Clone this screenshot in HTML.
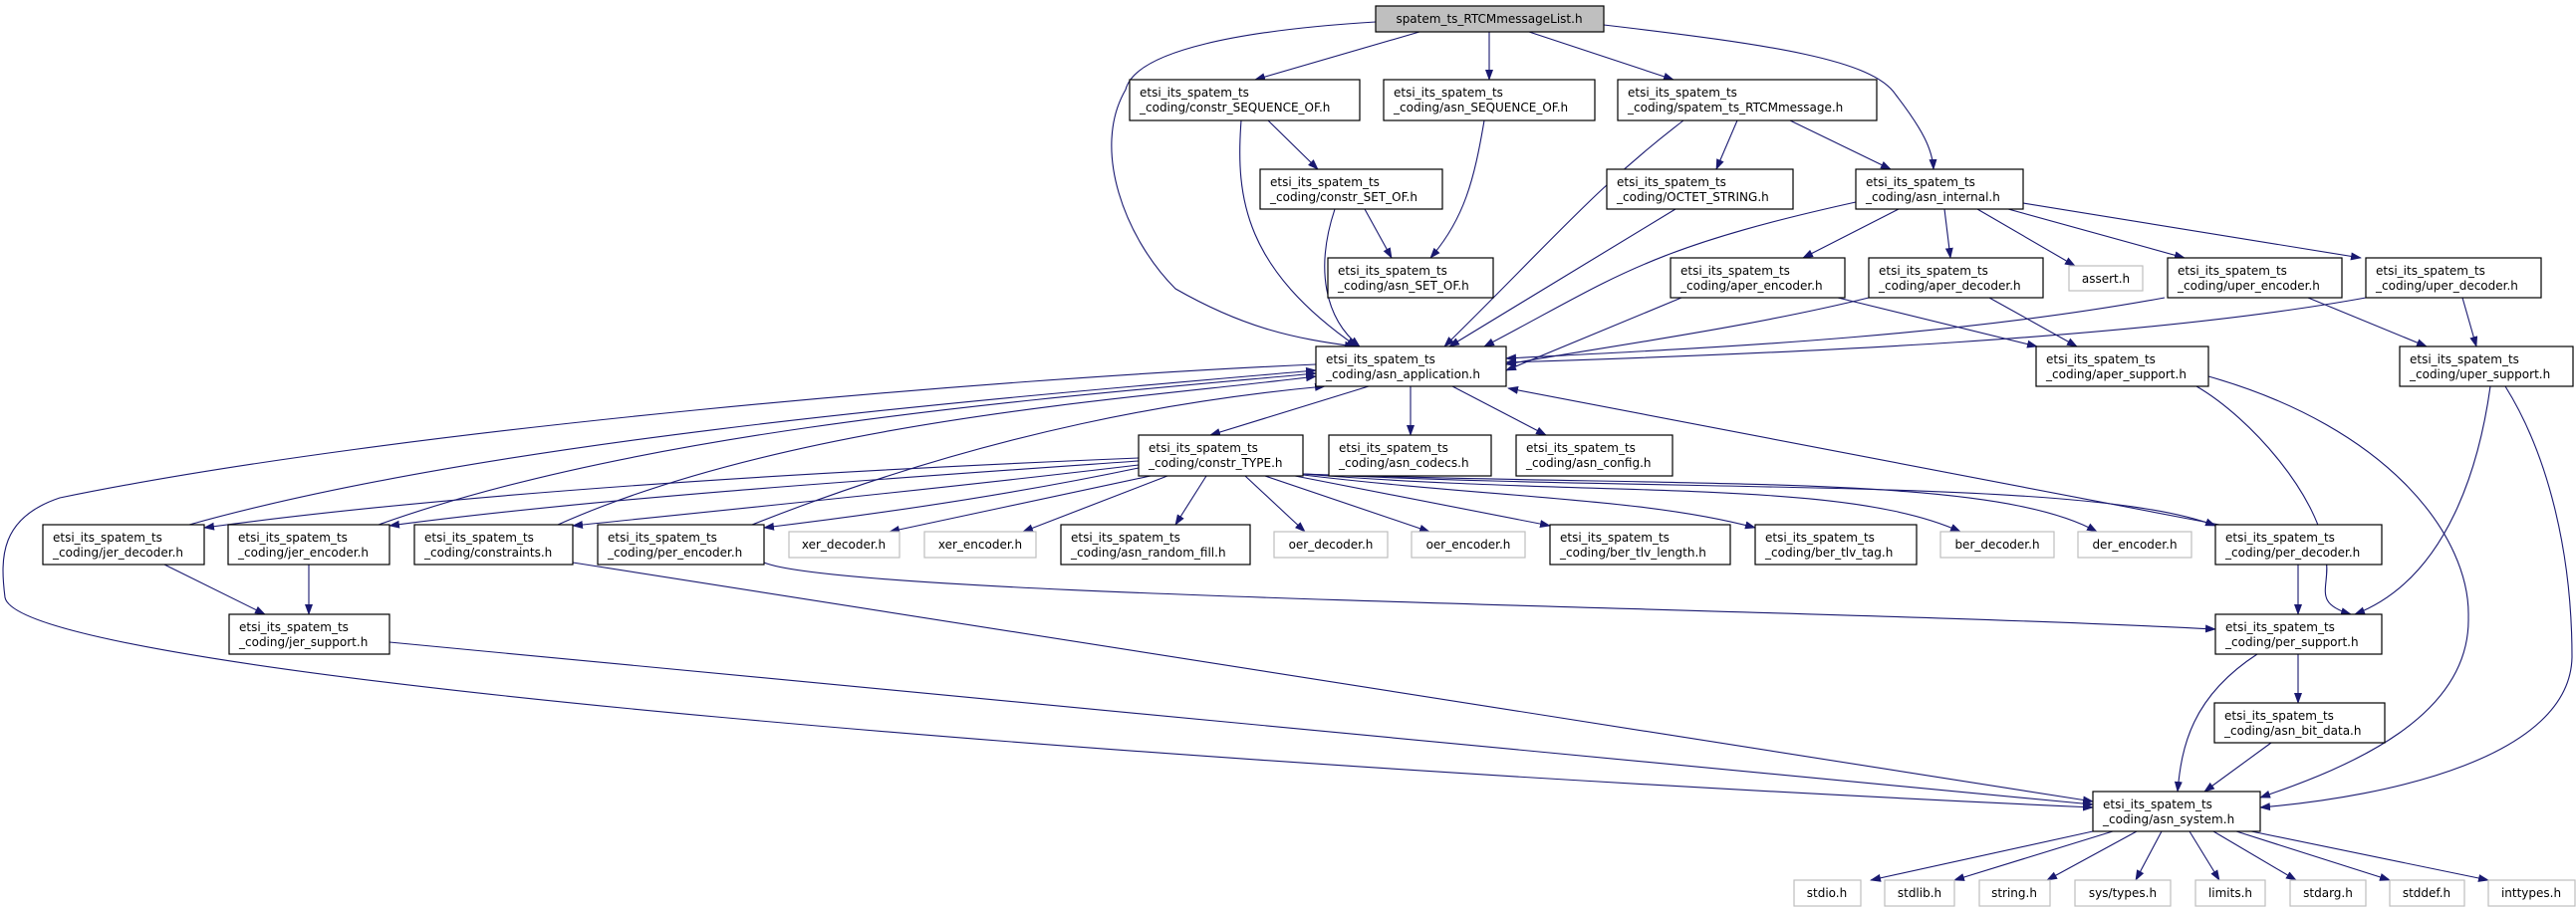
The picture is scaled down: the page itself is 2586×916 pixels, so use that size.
<!DOCTYPE html>
<html><head><meta charset="utf-8"><style>
html,body{margin:0;padding:0;background:#fff;}
svg{display:block;}
text{font-family:"DejaVu Sans","Liberation Sans",sans-serif;font-size:12px;fill:#000;}
.n{fill:#fff;stroke:#000;stroke-width:1.2;}
.g{fill:#fff;stroke:#bfbfbf;stroke-width:1.2;}
.e{fill:none;stroke:#191970;stroke-width:1.1;}
</style></head><body>
<svg width="2586" height="916" viewBox="0 0 2586 916" xmlns="http://www.w3.org/2000/svg">
<defs>
<marker id="a" markerWidth="11" markerHeight="8" refX="10" refY="4" orient="auto" markerUnits="userSpaceOnUse">
<path d="M0,0 L11,4 L0,8 z" fill="#191970"/>
</marker>
</defs>
<g class="e" marker-end="url(#a)">
<path d="M1425,32 L1260,80"/>
<path d="M1495,32 L1495,80"/>
<path d="M1535,32 L1680,80"/>
<path d="M1610,25 C1780,45 1880,60 1903,95 C1930,130 1940,150 1941,170"/>
<path d="M1381,22 C1250,30 1140,50 1130,90 C1095,150 1130,240 1180,290 C1250,330 1300,340 1360,348"/>
<path d="M1273,121 L1323,170"/>
<path d="M1246,121 C1240,200 1250,270 1362,348"/>
<path d="M1490,121 C1480,180 1470,220 1436,259"/>
<path d="M1370,210 L1397,259"/>
<path d="M1340,210 C1320,270 1330,320 1365,348"/>
<path d="M1744,121 L1723,170"/>
<path d="M1797,121 L1898,170"/>
<path d="M1690,121 C1600,190 1560,240 1450,348"/>
<path d="M1682,210 L1455,348"/>
<path d="M1863,203 C1650,250 1620,280 1490,348"/>
<path d="M1906,210 L1810,259"/>
<path d="M1952,210 L1958,259"/>
<path d="M1985,210 L2083,267"/>
<path d="M2016,210 L2193,259"/>
<path d="M2031,204 L2370,259"/>
<path d="M1688,299 L1512,372"/>
<path d="M1876,299 C1750,330 1600,350 1512,366"/>
<path d="M2173,299 C1950,340 1700,350 1512,360"/>
<path d="M2375,299 C2150,340 1800,355 1512,364"/>
<path d="M1845,299 L2045,348"/>
<path d="M1997,299 L2085,348"/>
<path d="M2317,299 L2436,348"/>
<path d="M2472,299 L2486,348"/>
<path d="M1374,388 L1215,437"/>
<path d="M1416,388 L1416,437"/>
<path d="M1458,388 L1552,437"/>
<path d="M1321,366 C1000,380 400,430 60,500 C0,520 0,560 5,600 C20,680 1200,770 2101,811"/>
<path d="M190,527 C500,440 1000,400 1321,372"/>
<path d="M380,527 C650,430 1050,400 1321,375"/>
<path d="M560,527 C800,420 1150,400 1321,378"/>
<path d="M755,527 C1000,430 1200,400 1330,388"/>
<path d="M2228,527 L1514,390"/>
<path d="M1143,460 C900,470 500,490 205,530"/>
<path d="M1143,463 C900,480 600,500 391,528"/>
<path d="M1143,467 C950,490 750,510 575,528"/>
<path d="M1143,470 C1000,500 850,520 767,530"/>
<path d="M1155,478 L893,534"/>
<path d="M1172,478 L1027,534"/>
<path d="M1211,478 L1180,527"/>
<path d="M1250,478 L1310,534"/>
<path d="M1270,478 L1435,534"/>
<path d="M1300,478 L1556,528"/>
<path d="M1308,477 C1500,500 1650,500 1762,530"/>
<path d="M1308,476 C1600,500 1850,480 1968,534"/>
<path d="M1308,476 C1700,490 2000,475 2105,534"/>
<path d="M1308,476 C1700,495 2100,480 2224,528"/>
<path d="M165,567 L266,617"/>
<path d="M310,567 L310,617"/>
<path d="M575,565 L2101,805"/>
<path d="M767,565 C850,600 1800,610 2224,632"/>
<path d="M391,645 L2101,808"/>
<path d="M2307,567 L2307,617"/>
<path d="M2205,388 C2260,420 2330,500 2335,560 C2340,590 2320,605 2360,617"/>
<path d="M2500,388 C2490,460 2460,580 2364,617"/>
<path d="M2217,378 C2400,430 2480,540 2478,620 C2480,720 2360,770 2269,801"/>
<path d="M2515,388 C2560,460 2582,560 2582,660 C2580,760 2400,800 2269,811"/>
<path d="M2307,657 L2307,706"/>
<path d="M2266,657 C2200,700 2190,750 2186,795"/>
<path d="M2280,746 L2213,795"/>
<path d="M2101,835 L1878,884"/>
<path d="M2121,835 L1962,884"/>
<path d="M2145,835 L2055,884"/>
<path d="M2170,835 L2144,884"/>
<path d="M2198,835 L2228,884"/>
<path d="M2222,835 L2305,884"/>
<path d="M2245,835 L2399,884"/>
<path d="M2260,835 L2498,884"/>
</g>

<rect x="1381" y="6" width="229" height="26" fill="#bfbfbf" stroke="#000" stroke-width="1.2"/>
<text x="1495" y="23" text-anchor="middle">spatem_ts_RTCMmessageList.h</text>

<g>
<rect class="n" x="1134" y="80" width="231" height="41"/><text x="1144" y="97">etsi_its_spatem_ts</text><text x="1144" y="112">_coding/constr_SEQUENCE_OF.h</text>
<rect class="n" x="1389" y="80" width="212" height="41"/><text x="1399" y="97">etsi_its_spatem_ts</text><text x="1399" y="112">_coding/asn_SEQUENCE_OF.h</text>
<rect class="n" x="1624" y="80" width="260" height="41"/><text x="1634" y="97">etsi_its_spatem_ts</text><text x="1634" y="112">_coding/spatem_ts_RTCMmessage.h</text>
<rect class="n" x="1265" y="170" width="183" height="40"/><text x="1275" y="187">etsi_its_spatem_ts</text><text x="1275" y="202">_coding/constr_SET_OF.h</text>
<rect class="n" x="1613" y="170" width="187" height="40"/><text x="1623" y="187">etsi_its_spatem_ts</text><text x="1623" y="202">_coding/OCTET_STRING.h</text>
<rect class="n" x="1863" y="170" width="168" height="40"/><text x="1873" y="187">etsi_its_spatem_ts</text><text x="1873" y="202">_coding/asn_internal.h</text>
<rect class="n" x="1333" y="259" width="166" height="40"/><text x="1343" y="276">etsi_its_spatem_ts</text><text x="1343" y="291">_coding/asn_SET_OF.h</text>
<rect class="n" x="1677" y="259" width="175" height="40"/><text x="1687" y="276">etsi_its_spatem_ts</text><text x="1687" y="291">_coding/aper_encoder.h</text>
<rect class="n" x="1876" y="259" width="175" height="40"/><text x="1886" y="276">etsi_its_spatem_ts</text><text x="1886" y="291">_coding/aper_decoder.h</text>
<rect class="g" x="2077" y="267" width="74" height="25"/><text x="2114" y="284" text-anchor="middle">assert.h</text>
<rect class="n" x="2176" y="259" width="175" height="40"/><text x="2186" y="276">etsi_its_spatem_ts</text><text x="2186" y="291">_coding/uper_encoder.h</text>
<rect class="n" x="2375" y="259" width="176" height="40"/><text x="2385" y="276">etsi_its_spatem_ts</text><text x="2385" y="291">_coding/uper_decoder.h</text>
<rect class="n" x="1321" y="348" width="191" height="40"/><text x="1331" y="365">etsi_its_spatem_ts</text><text x="1331" y="380">_coding/asn_application.h</text>
<rect class="n" x="2044" y="348" width="173" height="40"/><text x="2054" y="365">etsi_its_spatem_ts</text><text x="2054" y="380">_coding/aper_support.h</text>
<rect class="n" x="2409" y="348" width="174" height="40"/><text x="2419" y="365">etsi_its_spatem_ts</text><text x="2419" y="380">_coding/uper_support.h</text>
<rect class="n" x="1143" y="437" width="165" height="41"/><text x="1153" y="454">etsi_its_spatem_ts</text><text x="1153" y="469">_coding/constr_TYPE.h</text>
<rect class="n" x="1334" y="437" width="163" height="41"/><text x="1344" y="454">etsi_its_spatem_ts</text><text x="1344" y="469">_coding/asn_codecs.h</text>
<rect class="n" x="1522" y="437" width="157" height="41"/><text x="1532" y="454">etsi_its_spatem_ts</text><text x="1532" y="469">_coding/asn_config.h</text>
<rect class="n" x="43" y="527" width="162" height="40"/><text x="53" y="544">etsi_its_spatem_ts</text><text x="53" y="559">_coding/jer_decoder.h</text>
<rect class="n" x="229" y="527" width="162" height="40"/><text x="239" y="544">etsi_its_spatem_ts</text><text x="239" y="559">_coding/jer_encoder.h</text>
<rect class="n" x="416" y="527" width="159" height="40"/><text x="426" y="544">etsi_its_spatem_ts</text><text x="426" y="559">_coding/constraints.h</text>
<rect class="n" x="600" y="527" width="167" height="40"/><text x="610" y="544">etsi_its_spatem_ts</text><text x="610" y="559">_coding/per_encoder.h</text>
<rect class="g" x="792" y="534" width="111" height="26"/><text x="847" y="551" text-anchor="middle">xer_decoder.h</text>
<rect class="g" x="928" y="534" width="112" height="26"/><text x="984" y="551" text-anchor="middle">xer_encoder.h</text>
<rect class="n" x="1065" y="527" width="190" height="40"/><text x="1075" y="544">etsi_its_spatem_ts</text><text x="1075" y="559">_coding/asn_random_fill.h</text>
<rect class="g" x="1279" y="534" width="114" height="26"/><text x="1336" y="551" text-anchor="middle">oer_decoder.h</text>
<rect class="g" x="1417" y="534" width="114" height="26"/><text x="1474" y="551" text-anchor="middle">oer_encoder.h</text>
<rect class="n" x="1556" y="527" width="181" height="40"/><text x="1566" y="544">etsi_its_spatem_ts</text><text x="1566" y="559">_coding/ber_tlv_length.h</text>
<rect class="n" x="1762" y="527" width="162" height="40"/><text x="1772" y="544">etsi_its_spatem_ts</text><text x="1772" y="559">_coding/ber_tlv_tag.h</text>
<rect class="g" x="1948" y="534" width="114" height="26"/><text x="2005" y="551" text-anchor="middle">ber_decoder.h</text>
<rect class="g" x="2086" y="534" width="114" height="26"/><text x="2143" y="551" text-anchor="middle">der_encoder.h</text>
<rect class="n" x="2224" y="527" width="167" height="40"/><text x="2234" y="544">etsi_its_spatem_ts</text><text x="2234" y="559">_coding/per_decoder.h</text>
<rect class="n" x="230" y="617" width="161" height="40"/><text x="240" y="634">etsi_its_spatem_ts</text><text x="240" y="649">_coding/jer_support.h</text>
<rect class="n" x="2224" y="617" width="167" height="40"/><text x="2234" y="634">etsi_its_spatem_ts</text><text x="2234" y="649">_coding/per_support.h</text>
<rect class="n" x="2223" y="706" width="171" height="40"/><text x="2233" y="723">etsi_its_spatem_ts</text><text x="2233" y="738">_coding/asn_bit_data.h</text>
<rect class="n" x="2101" y="795" width="168" height="40"/><text x="2111" y="812">etsi_its_spatem_ts</text><text x="2111" y="827">_coding/asn_system.h</text>
<rect class="g" x="1801" y="884" width="67" height="26"/><text x="1834" y="901" text-anchor="middle">stdio.h</text>
<rect class="g" x="1892" y="884" width="70" height="26"/><text x="1927" y="901" text-anchor="middle">stdlib.h</text>
<rect class="g" x="1987" y="884" width="71" height="26"/><text x="2022" y="901" text-anchor="middle">string.h</text>
<rect class="g" x="2083" y="884" width="96" height="26"/><text x="2131" y="901" text-anchor="middle">sys/types.h</text>
<rect class="g" x="2204" y="884" width="70" height="26"/><text x="2239" y="901" text-anchor="middle">limits.h</text>
<rect class="g" x="2299" y="884" width="76" height="26"/><text x="2337" y="901" text-anchor="middle">stdarg.h</text>
<rect class="g" x="2399" y="884" width="75" height="26"/><text x="2436" y="901" text-anchor="middle">stddef.h</text>
<rect class="g" x="2498" y="884" width="87" height="26"/><text x="2541" y="901" text-anchor="middle">inttypes.h</text>
</g>
</svg>
</body></html>
